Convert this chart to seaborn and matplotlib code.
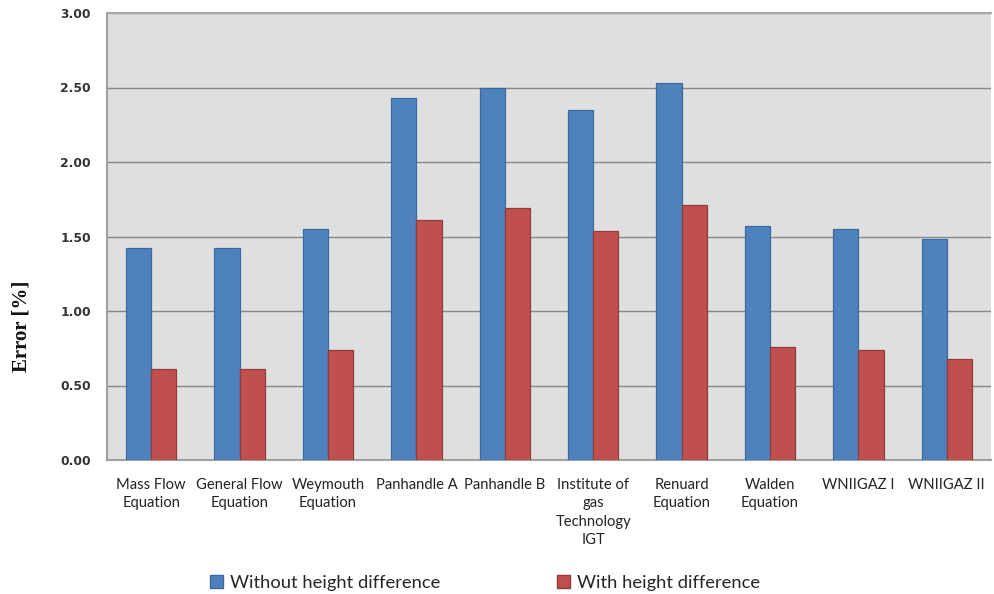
import matplotlib
matplotlib.use("Agg")
import matplotlib.pyplot as plt
from matplotlib.patches import Patch
import seaborn as sns
import pandas as pd

categories = [
    "Mass Flow\nEquation",
    "General Flow\nEquation",
    "Weymouth\nEquation",
    "Panhandle A",
    "Panhandle B",
    "Institute of\ngas\nTechnology\nIGT",
    "Renuard\nEquation",
    "Walden\nEquation",
    "WNIIGAZ I",
    "WNIIGAZ II",
]
without_height = [1.42, 1.42, 1.55, 2.43, 2.50, 2.35, 2.53, 1.57, 1.55, 1.48]
with_height = [0.61, 0.61, 0.74, 1.61, 1.69, 1.54, 1.71, 0.76, 0.74, 0.68]
series_names = ["Without height difference", "With height difference"]
y_ticks = [0.0, 0.5, 1.0, 1.5, 2.0, 2.5, 3.0]

df = pd.DataFrame({
    "Method": categories * 2,
    "Error": without_height + with_height,
    "Series": [series_names[0]] * len(categories) + [series_names[1]] * len(categories),
})

colors = ["#4F81BD", "#C0504D"]
edges = ["#3B6A9E", "#923B39"]

sns.set_theme(style="white")
plt.rcParams["font.family"] = ["DejaVu Sans"]

fig = plt.figure(figsize=(9.94, 5.94), dpi=100)
ax = fig.add_axes([107 / 994, 1 - 460 / 594, (991 - 107) / 994, (460 - 13) / 594])
ax.set_facecolor("#DFDFDF")

sns.barplot(data=df, x="Method", y="Error", hue="Series", palette=colors,
            width=0.57, gap=0, ax=ax, legend=False, saturation=1)

for i, cont in enumerate(ax.containers):
    for bar in cont:
        bar.set_edgecolor(edges[i])
        bar.set_linewidth(0.9)
        bar.set_zorder(3)

ax.set_ylim(0, 3.0)
ax.set_xlim(-0.5, len(categories) - 0.5)
ax.set_yticks(y_ticks)
ax.set_yticklabels([f"{v:.2f}" for v in y_ticks])
ax.yaxis.grid(True, color="#878787", linewidth=1.0, zorder=0)
ax.set_axisbelow(True)

for side in ["left", "bottom"]:
    ax.spines[side].set_color("#A0A0A0")
    ax.spines[side].set_linewidth(1.5)
ax.spines["right"].set_visible(False)
ax.spines["top"].set_color("#A8A8A8")
ax.spines["top"].set_linewidth(1.5)

ax.tick_params(axis="y", length=4, width=1, color="#A0A0A0", pad=7.5,
               labelsize=9.5, labelcolor="#333333")
ax.tick_params(axis="x", length=0, pad=13, labelsize=10.6, labelcolor="#222222")
for lbl in ax.get_yticklabels():
    lbl.set_fontweight("bold")
    lbl.set_fontsize(8.8)
for lbl in ax.get_xticklabels():
    lbl.set_family(["Lato", "DejaVu Sans"])
    lbl.set_linespacing(1.4)
    lbl.set_verticalalignment("top")

ax.set_xlabel("")
ax.set_ylabel("")
fig.text(22 / 994, 1 - 326 / 594, "Error [%]", rotation=90, ha="center", va="center",
         family="Liberation Serif", fontweight="bold", fontsize=15, color="#111111")

handles = [Patch(facecolor=colors[i], edgecolor=edges[i], label=series_names[i])
           for i in range(2)]
leg = fig.legend(handles=handles, loc="center", bbox_to_anchor=(485 / 994, 1 - 583 / 594),
                 ncol=2, frameon=False, columnspacing=6.4, handlelength=0.7,
                 handleheight=0.7, handletextpad=0.35,
                 prop={"family": ["Lato", "DejaVu Sans"], "size": 13.2})

fig.savefig("out.png", dpi=100, facecolor="white")
